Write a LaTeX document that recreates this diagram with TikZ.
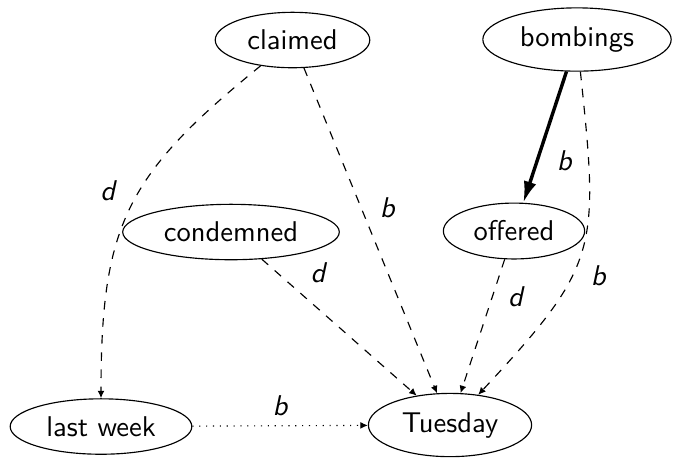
\documentclass[tikz,border=0pt]{standalone}
\usepackage{tikz}
\usetikzlibrary{arrows.meta,shapes.geometric}
\begin{document}
\begin{tikzpicture}[>={Latex[length=2.6pt,width=2.4pt]}, x=0.35pt, y=-0.35pt, font=\sffamily,
		word/.style={draw, ellipse},
		rel/.style={font=\sffamily\itshape}]
			\useasboundingbox (0,0) rectangle (673,457);
			\node[word] (claimed) at (292.5,40) {claimed};
			\node[word] (bombings) at (577,39.5) {bombings};
			\node[word] (condemned) at (231,232) {condemned};
			\node[word] (offered) at (514,231) {offered};
			\node[word] (lastweek) at (101,426.5) {last week};
			\node[word] (tuesday) at (450,425) {Tuesday};
			\draw[->, dashed] (claimed) to[out=219, in=90, looseness=1.2] node[pos=0.44, left=5pt, rel] {d} (lastweek);
			\draw[->, dashed] (claimed) -- node[pos=0.43, right=3pt, rel] {b} (tuesday);
			\draw[->, dashed] (condemned) -- node[near start, above right, rel] {d} (tuesday);
			\draw[->, dashed] (offered) -- node[pos=0.28, right=2pt, rel] {d} (tuesday);
			\draw[-{Latex[length=7.5pt,width=4.5pt]}, line width=1.2pt] (bombings) -- node[pos=0.68, right=3pt, rel] {b} (offered);
			\draw[->, dashed] (bombings) to[out=-84, in=47, looseness=1.35] node[pos=0.6, right=3pt, rel] {b} (tuesday);
			\draw[->, dotted] (lastweek) -- node[above, rel] {b} (tuesday);
		\end{tikzpicture}
\end{document}
